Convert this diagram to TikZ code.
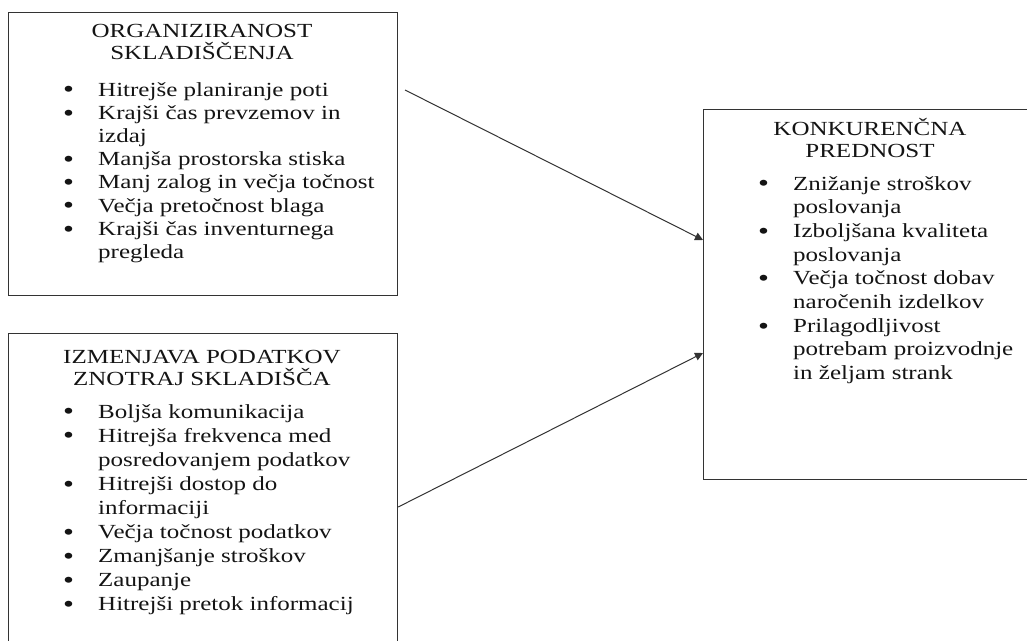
\documentclass[tikz,border=0pt]{standalone}
\usepackage{fontspec}
\setmainfont{Liberation Serif}[FakeStretch=1.25]
\usetikzlibrary{positioning,arrows.meta}

\newcommand{\bl}{\raisebox{-1.8pt}{\fontsize{25}{0}\selectfont\textbullet}}

\begin{document}
\begin{tikzpicture}[x=1pt,y=-1pt]
\tikzset{
  panel/.style={draw=black!80, line width=1.2pt, inner sep=0pt, anchor=north west},
  head/.style={align=center, inner sep=0pt, anchor=base, text=black!92,
    font=\fontsize{20}{22}\selectfont},
  points/.style={inner sep=0pt, anchor=base west, text=black!92,
    font=\fontsize{20}{23.2}\selectfont},
  link/.style={draw=black!80, line width=1pt, -{Triangle[length=8pt,width=8pt]}}
}
\useasboundingbox (0,0) rectangle (1027,640);

% boxes
\node[panel, minimum width=389pt, minimum height=283pt] (os) at (8,12) {};
\node[panel, minimum width=389pt, minimum height=330pt] (ip) at (8,333) {};
\node[panel, minimum width=334pt, minimum height=370pt] (kp) at (703,109) {};

% headings (base = last line)
\node[head] (osh) at (202,59) {ORGANIZIRANOST\\SKLADIŠČENJA};
\node[head] (iph) at (202,385) {IZMENJAVA PODATKOV\\ZNOTRAJ SKLADIŠČA};
\node[head] (kph) at (870,157) {KONKURENČNA\\PREDNOST};

% bullet lists
\node[points] (osl) at (63,96) {\begin{tabular}[t]{@{}p{35pt}@{}l@{}}
\bl & Hitrejše planiranje poti\\
\bl & Krajši čas prevzemov in\\
    & izdaj\\
\bl & Manjša prostorska stiska\\
\bl & Manj zalog in večja točnost\\
\bl & Večja pretočnost blaga\\
\bl & Krajši čas inventurnega\\
    & pregleda
\end{tabular}};
\node[points, font=\fontsize{20}{24.1}\selectfont] (ipl) at (63,418) {\begin{tabular}[t]{@{}p{35pt}@{}l@{}}
\bl & Boljša komunikacija\\
\bl & Hitrejša frekvenca med\\
    & posredovanjem podatkov\\
\bl & Hitrejši dostop do\\
    & informaciji\\
\bl & Večja točnost podatkov\\
\bl & Zmanjšanje stroškov\\
\bl & Zaupanje\\
\bl & Hitrejši pretok informacij
\end{tabular}};
\node[points, font=\fontsize{20}{23.7}\selectfont] (kpl) at (758,190) {\begin{tabular}[t]{@{}p{35pt}@{}l@{}}
\bl & Znižanje stroškov\\
    & poslovanja\\
\bl & Izboljšana kvaliteta\\
    & poslovanja\\
\bl & Večja točnost dobav\\
    & naročenih izdelkov\\
\bl & Prilagodljivost\\
    & potrebam proizvodnje\\
    & in željam strank
\end{tabular}};

% connectors
\coordinate (ost) at (405,90);
\draw[link] (ost) -- ([yshift=-131pt]kp.north west);
\draw[link] ([yshift=-174pt]ip.north east) -- ([yshift=-244pt]kp.north west);
\end{tikzpicture}
\end{document}
